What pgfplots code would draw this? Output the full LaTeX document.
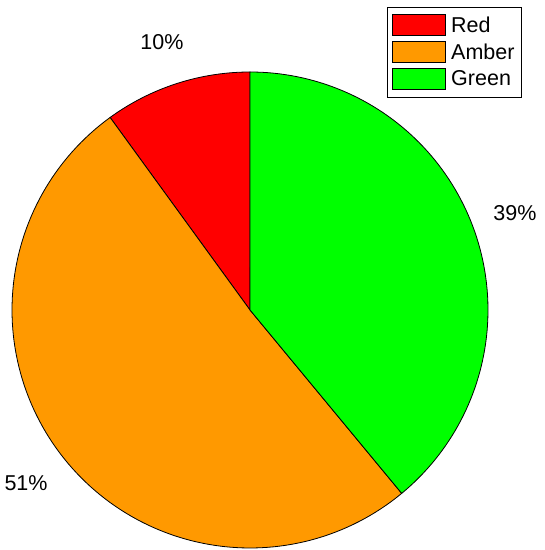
\documentclass[border=0pt]{standalone}
\usepackage{fontspec}
\setmainfont{Liberation Sans}
\usepackage{pgfplots}
\pgfplotsset{compat=1.18}
\definecolor{pieRed}{RGB}{255,0,0}
\definecolor{pieAmber}{RGB}{255,153,0}
\definecolor{pieGreen}{RGB}{0,255,0}
% slice values (percent)
\def\vRed{10}
\def\vAmber{51}
\def\vGreen{39}
\pgfmathsetmacro{\aA}{90}
\pgfmathsetmacro{\aB}{\aA+3.6*\vRed}
\pgfmathsetmacro{\aC}{\aB+3.6*\vAmber}
\pgfmathsetmacro{\aD}{\aC+3.6*\vGreen}
\begin{document}
\begin{tikzpicture}
\begin{axis}[
  scale only axis, width=544pt, height=550pt,
  xmin=-1.0504, xmax=1.2353, ymin=-1.0084, ymax=1.3025,
  hide axis, clip=false,
  font=\fontsize{21.5}{25}\selectfont,
  legend style={at={(rel axis cs:0.7114,0.988)}, anchor=north west,
    draw=black, line width=0.8pt, inner xsep=5pt, inner ysep=7.5pt,
    row sep=5pt, font=\fontsize{21.5}{25}\selectfont,
    nodes={inner ysep=0pt},
    /tikz/every odd column/.append style={column sep=3pt}},
  legend cell align=left,
  legend image code/.code={\draw[#1, line width=0.8pt] (0pt,-10.5pt) rectangle (53pt,10.5pt);},
]
\path (rel axis cs:0,0) rectangle (rel axis cs:1,1);
\addplot[fill=pieRed, draw=black, line width=0.8pt, domain=\aA:\aB, samples=40]
  ({cos(x)},{sin(x)}) -- (axis cs:0,0) -- cycle;
\addlegendentry{Red}
\addplot[fill=pieAmber, draw=black, line width=0.8pt, domain=\aB:\aC, samples=120]
  ({cos(x)},{sin(x)}) -- (axis cs:0,0) -- cycle;
\addlegendentry{Amber}
\addplot[fill=pieGreen, draw=black, line width=0.8pt, domain=\aC:\aD, samples=100]
  ({cos(x)},{sin(x)}) -- (axis cs:0,0) -- cycle;
\addlegendentry{Green}
\node at (axis cs:-0.37,1.126) {10\%};
\node at (axis cs:1.113,0.408) {39\%};
\node at (axis cs:-0.941,-0.727) {51\%};
\end{axis}
\end{tikzpicture}
\end{document}
